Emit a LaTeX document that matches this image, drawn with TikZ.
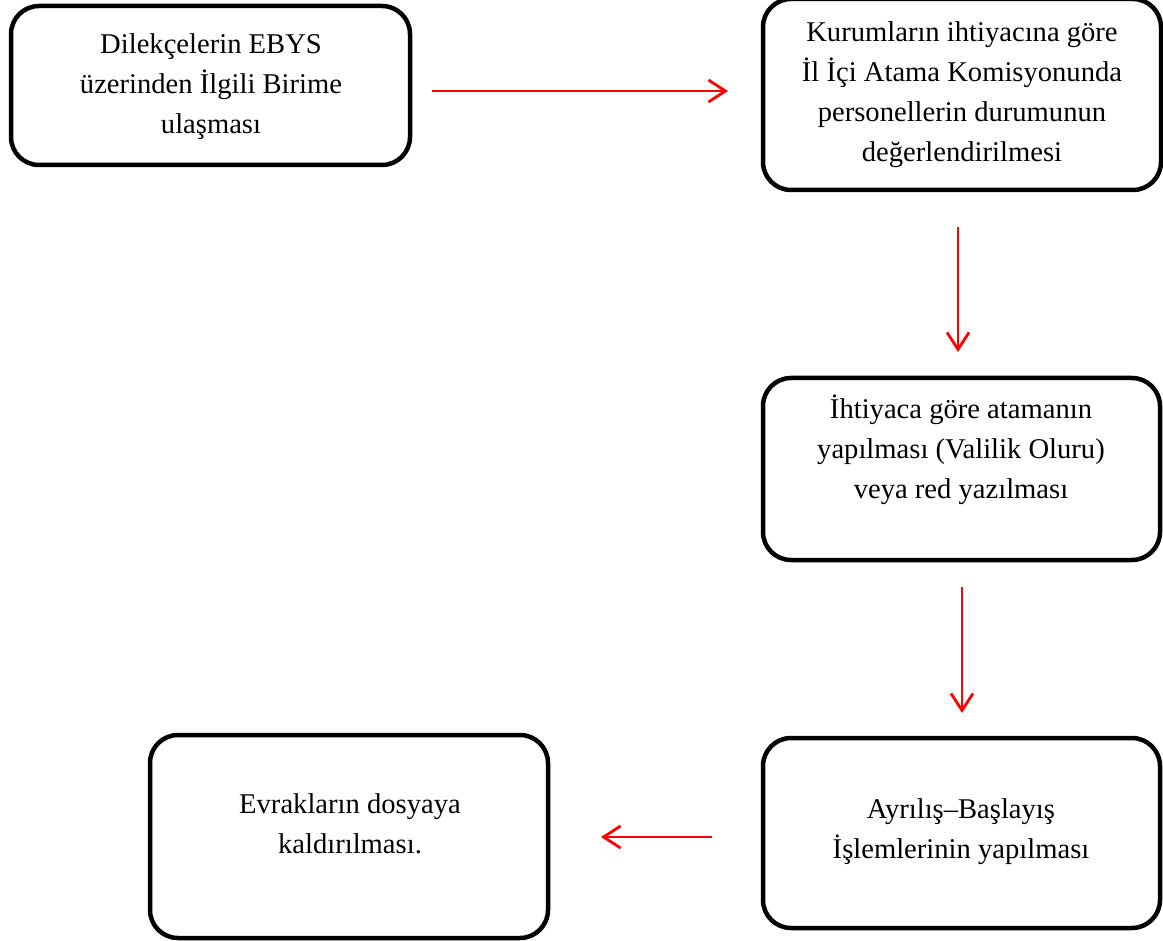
\documentclass[tikz,border=0pt]{standalone}
\usepackage{fontspec}
\setmainfont{Liberation Serif}
\usetikzlibrary{arrows.meta}
\begin{document}
\begin{tikzpicture}[x=1pt,y=-1pt,
  stepbox/.style={draw=black,line width=4.5pt,rounded corners=28pt,inner sep=0pt,outer sep=0pt},
  boxtext/.style={align=center,inner sep=0pt,font=\fontsize{28.6}{40}\selectfont},
  flow/.style={draw=red,line width=2.8pt,-{Straight Barb[length=17pt,width=22pt,line width=2.8pt]}}]
\useasboundingbox (0,0) rectangle (1163,941);
% boxes
\node[stepbox,minimum width=399pt,minimum height=159pt] (b1) at (210.5,85.5) {};
\node[stepbox,minimum width=398pt,minimum height=191pt] (b2) at (962,94.5) {};
\node[stepbox,minimum width=397pt,minimum height=182pt] (b3) at (961.5,469) {};
\node[stepbox,minimum width=397pt,minimum height=190pt] (b4) at (961.5,833) {};
\node[stepbox,minimum width=398pt,minimum height=203pt] (b5) at (349,836.5) {};
% texts
\node[boxtext] (t1) at (211,87) {Dilekçelerin EBYS\\üzerinden İlgili Birime\\ulaşması};
\node[boxtext] (t2) at (962,95) {Kurumların ihtiyacına göre\\İl İçi Atama Komisyonunda\\personellerin durumunun\\değerlendirilmesi};
\node[boxtext] (t3) at (961,450) {İhtiyaca göre atamanın\\yapılması (Valilik Oluru)\\veya red yazılması};
\node[boxtext] (t4) at (961,832) {Ayrılış–Başlayış\\İşlemlerinin yapılması};
\node[boxtext] (t5) at (350,824) {Evrakların dosyaya\\kaldırılması.};
% connectors
\draw[flow] ([xshift=22pt]b1.east |- 0,91) coordinate (a1s) -- ([xshift=-35pt]b2.west |- 0,91) coordinate (a1e);
\draw[flow] (958,0 |- b2.south) ++(0,37) coordinate (a2s) -- ([yshift=26pt]958,0 |- b3.north);
\draw[flow] (962,0 |- b3.south) ++(0,27) coordinate (a3s) -- ([yshift=25pt]962,0 |- b4.north);
\draw[flow] ([xshift=-51pt]b4.west |- 0,837) coordinate (a4s) -- ([xshift=53pt]b5.east |- 0,837);
\end{tikzpicture}
\end{document}
